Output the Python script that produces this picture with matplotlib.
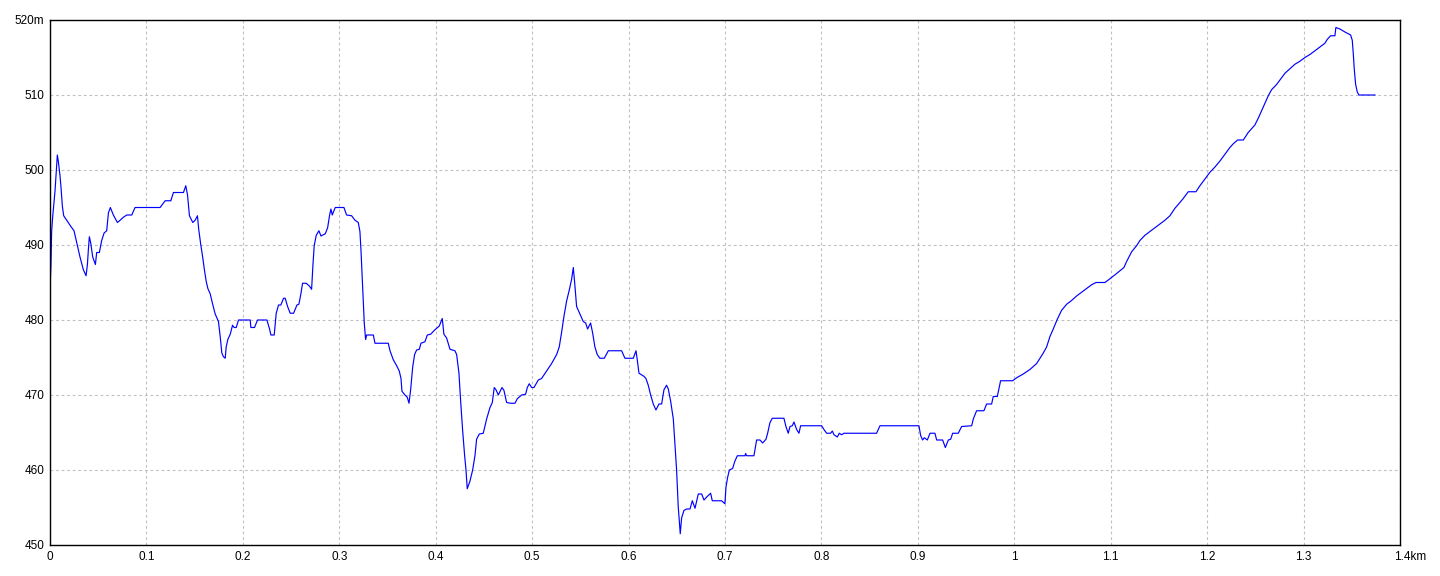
import matplotlib
matplotlib.use("Agg")
import matplotlib.pyplot as plt
import matplotlib.transforms as mtransforms

# distance (km) and elevation (m)
dist_km = [
    0.0, 0.001, 0.0017, 0.0028, 0.0042, 0.0052, 0.0062, 0.0076, 0.0087, 0.0104,
    0.0114, 0.0128, 0.0142, 0.0173, 0.0215, 0.0249, 0.0277, 0.0311, 0.0346, 0.0374,
    0.0388, 0.0398, 0.0408, 0.0422, 0.0443, 0.0471, 0.0484, 0.0512, 0.0536, 0.0561,
    0.0588, 0.0606, 0.0626, 0.0657, 0.0699, 0.0727, 0.0761, 0.0796, 0.0848, 0.0882,
    0.1142, 0.1194, 0.1253, 0.128, 0.1384, 0.1408, 0.1426, 0.1446, 0.1481, 0.1505,
    0.1529, 0.1543, 0.1564, 0.1581, 0.1599, 0.1619, 0.1637, 0.1661, 0.1689, 0.1713,
    0.1747, 0.1765, 0.1782, 0.1799, 0.1817, 0.1827, 0.1844, 0.1869, 0.1893, 0.191,
    0.1931, 0.1955, 0.2076, 0.2083, 0.2121, 0.2152, 0.2249, 0.2277, 0.2291, 0.2325,
    0.2346, 0.237, 0.2394, 0.2422, 0.2439, 0.2464, 0.2491, 0.2526, 0.2561, 0.2581,
    0.2602, 0.2619, 0.2657, 0.2692, 0.2713, 0.2727, 0.274, 0.2761, 0.2789, 0.281,
    0.2855, 0.2879, 0.29, 0.2913, 0.2927, 0.2958, 0.3048, 0.3076, 0.3128, 0.3163,
    0.3197, 0.3214, 0.3225, 0.3239, 0.3249, 0.3259, 0.3273, 0.3284, 0.3353, 0.337,
    0.3508, 0.3526, 0.356, 0.3595, 0.3622, 0.364, 0.365, 0.3681, 0.3705, 0.3723,
    0.374, 0.3761, 0.3781, 0.3802, 0.383, 0.3847, 0.3888, 0.3913, 0.3947, 0.3992,
    0.4037, 0.4068, 0.4085, 0.4113, 0.4148, 0.4199, 0.4217, 0.4241, 0.4258, 0.4279,
    0.43, 0.4314, 0.4327, 0.4355, 0.4383, 0.4407, 0.4424, 0.4452, 0.4493, 0.4528,
    0.4562, 0.4587, 0.4607, 0.4625, 0.4649, 0.4687, 0.4708, 0.4735, 0.4777, 0.4822,
    0.4846, 0.4891, 0.4932, 0.495, 0.497, 0.4995, 0.5019, 0.5064, 0.5098, 0.515,
    0.5202, 0.5254, 0.5281, 0.5306, 0.533, 0.5357, 0.5385, 0.5409, 0.5427, 0.5444,
    0.5461, 0.5496, 0.553, 0.5555, 0.5575, 0.5606, 0.5627, 0.5651, 0.5675, 0.5703,
    0.5748, 0.579, 0.5928, 0.5962, 0.6049, 0.6077, 0.609, 0.6108, 0.6159, 0.618,
    0.6204, 0.6229, 0.6256, 0.6284, 0.6315, 0.6343, 0.6367, 0.6394, 0.6412, 0.6436,
    0.6464, 0.6481, 0.6498, 0.6515, 0.6536, 0.655, 0.6574, 0.6602, 0.6637, 0.6661,
    0.6689, 0.6723, 0.6758, 0.6782, 0.681, 0.6851, 0.6868, 0.6965, 0.6999, 0.701,
    0.7027, 0.7045, 0.7079, 0.7103, 0.7128, 0.7207, 0.7214, 0.7224, 0.73, 0.7328,
    0.7363, 0.739, 0.7425, 0.7442, 0.7466, 0.749, 0.7611, 0.7632, 0.7656, 0.7674,
    0.7698, 0.7715, 0.7743, 0.7767, 0.7784, 0.8002, 0.8026, 0.8054, 0.8095, 0.8113,
    0.813, 0.8165, 0.8185, 0.8209, 0.8234, 0.8572, 0.8607, 0.9011, 0.9029, 0.9049,
    0.9067, 0.9098, 0.9126, 0.9177, 0.9195, 0.9257, 0.9285, 0.9316, 0.934, 0.9361,
    0.9419, 0.9454, 0.9558, 0.9575, 0.9609, 0.9685, 0.9713, 0.9765, 0.9782, 0.9824,
    0.9858, 0.9983, 1.0024, 1.0093, 1.0162, 1.0232, 1.0266, 1.0301, 1.0335, 1.037,
    1.0404, 1.0446, 1.0491, 1.0543, 1.0594, 1.0646, 1.0698, 1.075, 1.0802, 1.0847,
    1.094, 1.0992, 1.1061, 1.1137, 1.1165, 1.1217, 1.1268, 1.1303, 1.1355, 1.1407,
    1.1459, 1.151, 1.1562, 1.1614, 1.1666, 1.17, 1.1752, 1.1804, 1.1884, 1.1925,
    1.1977, 1.2029, 1.2081, 1.2133, 1.2184, 1.2236, 1.2271, 1.2316, 1.2375, 1.2426,
    1.2495, 1.253, 1.2565, 1.2599, 1.2634, 1.2668, 1.272, 1.2755, 1.2807, 1.2858,
    1.291, 1.2962, 1.3014, 1.3066, 1.3118, 1.3169, 1.3221, 1.3245, 1.328, 1.3325,
    1.3335, 1.3377, 1.3429, 1.3488, 1.3505, 1.3515, 1.3526, 1.354, 1.3557, 1.3574,
    1.374,
]
elev_m = [
    484.0, 487.4, 491.8, 493.8, 495.7, 497.2, 499.2, 502.0, 501.1, 499.2,
    497.7, 495.2, 493.9, 493.3, 492.5, 491.9, 490.3, 488.4, 486.7, 485.9,
    487.4, 489.4, 491.1, 490.3, 488.4, 487.4, 489.0, 489.0, 490.6, 491.6,
    491.9, 494.3, 495.0, 494.0, 493.0, 493.3, 493.7, 494.0, 494.0, 495.0,
    495.0, 495.9, 495.9, 497.0, 497.0, 497.9, 496.7, 493.9, 493.0, 493.3,
    493.9, 492.0, 490.0, 488.6, 486.9, 485.2, 484.2, 483.5, 482.0, 480.8,
    479.8, 477.8, 475.6, 475.1, 474.9, 476.4, 477.4, 478.1, 479.3, 479.0,
    479.0, 480.0, 480.0, 479.0, 479.0, 480.0, 480.0, 478.8, 478.0, 478.0,
    480.9, 482.0, 482.0, 482.9, 482.9, 481.8, 480.9, 480.9, 482.0, 482.1,
    483.5, 484.9, 484.9, 484.5, 484.1, 487.4, 489.9, 491.3, 491.9, 491.2,
    491.5, 492.3, 494.0, 494.8, 494.0, 495.0, 495.0, 494.0, 493.9, 493.3,
    493.0, 491.8, 489.3, 485.4, 482.5, 479.6, 477.4, 478.0, 478.0, 476.9,
    476.9, 475.9, 474.7, 473.9, 473.2, 472.2, 470.5, 470.0, 469.7, 468.9,
    470.7, 473.7, 475.4, 476.0, 476.1, 476.9, 477.1, 478.0, 478.1, 478.7,
    479.2, 480.2, 478.1, 477.6, 476.1, 475.9, 475.4, 472.9, 469.3, 465.3,
    461.9, 460.0, 457.5, 458.5, 460.0, 461.9, 464.1, 464.8, 464.9, 466.8,
    468.3, 469.0, 471.0, 470.7, 470.0, 471.0, 470.6, 469.0, 468.9, 468.9,
    469.5, 470.0, 470.1, 471.0, 471.5, 471.0, 471.0, 472.0, 472.2, 473.2,
    474.2, 475.4, 476.4, 478.4, 480.5, 482.5, 484.0, 485.4, 487.0, 484.5,
    481.8, 480.8, 479.8, 479.6, 478.8, 479.6, 478.3, 476.4, 475.4, 474.9,
    474.9, 475.9, 475.9, 474.9, 474.9, 475.9, 474.7, 472.9, 472.5, 472.2,
    471.3, 470.0, 468.8, 468.0, 468.8, 468.8, 470.7, 471.3, 470.8, 469.2,
    466.8, 463.4, 460.0, 455.1, 451.5, 453.6, 454.6, 454.8, 454.8, 455.9,
    454.9, 456.8, 456.8, 456.0, 456.4, 456.9, 455.9, 455.9, 455.5, 457.7,
    459.0, 460.0, 460.2, 461.2, 461.9, 461.9, 462.2, 461.9, 461.9, 464.0,
    464.0, 463.6, 464.1, 464.9, 466.3, 466.9, 466.9, 465.8, 464.9, 465.8,
    465.9, 466.4, 465.4, 464.9, 465.9, 465.9, 465.4, 464.9, 464.9, 465.2,
    464.7, 464.4, 464.9, 464.7, 464.9, 464.9, 465.9, 465.9, 464.6, 464.0,
    464.3, 464.0, 464.9, 464.9, 464.0, 464.0, 463.0, 464.0, 464.1, 464.9,
    464.9, 465.8, 465.9, 466.8, 467.9, 467.9, 468.8, 468.8, 469.8, 469.8,
    471.9, 471.9, 472.3, 472.8, 473.4, 474.2, 474.9, 475.6, 476.4, 477.8,
    478.8, 480.1, 481.3, 482.1, 482.6, 483.2, 483.7, 484.2, 484.7, 485.0,
    485.0, 485.5, 486.2, 487.0, 487.8, 489.1, 489.9, 490.6, 491.3, 491.8,
    492.3, 492.8, 493.3, 493.9, 494.9, 495.4, 496.2, 497.1, 497.1, 497.9,
    498.8, 499.7, 500.4, 501.2, 502.1, 503.0, 503.5, 504.0, 504.0, 505.0,
    506.0, 506.9, 507.9, 508.9, 509.9, 510.7, 511.4, 512.0, 512.9, 513.5,
    514.1, 514.5, 515.0, 515.4, 515.9, 516.4, 516.9, 517.4, 517.9, 517.9,
    519.0, 518.8, 518.4, 518.0, 517.3, 515.6, 513.4, 511.4, 510.4, 510.0,
    510.0,
]

x_ticks = [0, 0.1, 0.2, 0.3, 0.4, 0.5, 0.6, 0.7, 0.8, 0.9, 1.0, 1.1, 1.2, 1.3, 1.4]
x_labels = ["0", "0.1", "0.2", "0.3", "0.4", "0.5", "0.6", "0.7", "0.8", "0.9",
            "1", "1.1", "1.2", "1.3", "1.4km"]
y_ticks = [450, 460, 470, 480, 490, 500, 510, 520]
y_labels = ["450", "460", "470", "480", "490", "500", "510", "520m"]

plt.rcParams['font.family'] = ['Liberation Sans', 'DejaVu Sans']

fig = plt.figure(figsize=(14.4, 5.76), dpi=100)
ax = fig.add_axes([50 / 1440, 1 - 545 / 576, 1350 / 1440, 525 / 576])

ax.plot(dist_km, elev_m, color="#0000ff", linewidth=0.85)

ax.set_xlim(0, 1.4)
ax.set_ylim(450, 520)
ax.set_xticks(x_ticks)
ax.set_xticklabels(x_labels, fontsize=8.5)
ax.set_yticks(y_ticks)
ax.set_yticklabels(y_labels, fontsize=8.5)
ax.tick_params(length=0, pad=4)
ax.grid(True, color="#c0c0c0", linestyle=(0, (2.5, 2.5)), linewidth=0.8)

for s in ax.spines.values():
    s.set_color("black")
    s.set_linewidth(1.0)

# "1.4km" starts just left of its tick
last = ax.get_xticklabels()[-1]
last.set_horizontalalignment("left")
last.set_transform(last.get_transform() +
                   mtransforms.ScaledTranslation(-6 / 100, 0, fig.dpi_scale_trans))

fig.savefig("out.png", dpi=100)
